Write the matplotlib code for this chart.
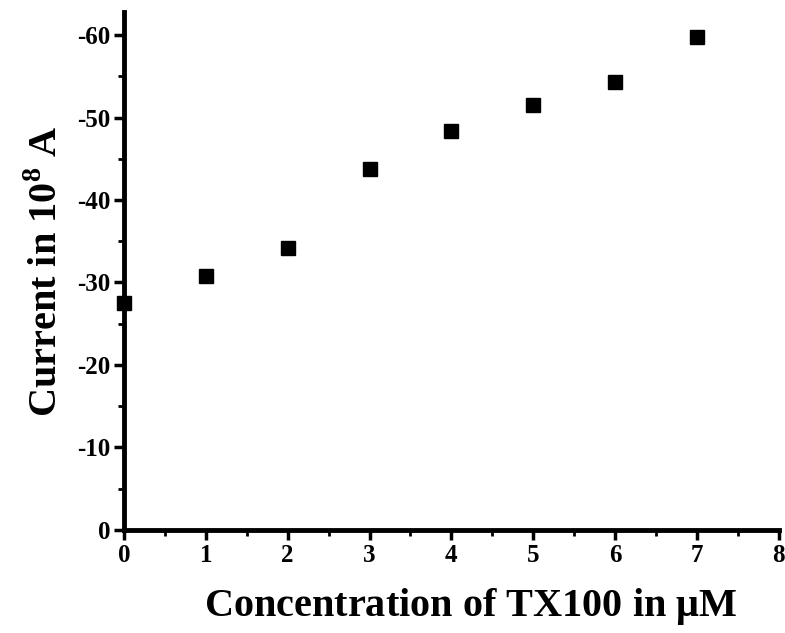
import matplotlib
matplotlib.use("Agg")
import matplotlib.pyplot as plt
from matplotlib.ticker import MultipleLocator

plt.rcParams["font.family"] = ["Liberation Serif", "DejaVu Serif"]
plt.rcParams["font.weight"] = "bold"
plt.rcParams["axes.unicode_minus"] = False
plt.rcParams["mathtext.fontset"] = "custom"
plt.rcParams["mathtext.rm"] = "Liberation Serif:bold"
plt.rcParams["mathtext.bf"] = "Liberation Serif:bold"

# Measured current vs. surfactant concentration
concentration = [0, 1, 2, 3, 4, 5, 6, 7]
current = [-27.5, -30.8, -34.2, -43.8, -48.4, -51.5, -54.3, -59.8]

x_ticks = [0, 1, 2, 3, 4, 5, 6, 7, 8]
y_ticks = [0, -10, -20, -30, -40, -50, -60]

fig = plt.figure(figsize=(7.85, 6.33), dpi=100)
ax = fig.add_axes([0.158, 0.163, 0.834, 0.818])

ax.plot(concentration, current, linestyle="none", marker="s", markersize=10,
        color="black", clip_on=False, zorder=5)

ax.set_xlim(0, 8)
ax.set_ylim(0, -62.8)
ax.set_xticks(x_ticks)
ax.set_yticks(y_ticks)
ax.set_xticklabels([str(v) for v in x_ticks])
ax.set_yticklabels([str(v) for v in y_ticks])
ax.xaxis.set_minor_locator(MultipleLocator(0.5))
ax.yaxis.set_minor_locator(MultipleLocator(5))

for side in ("top", "right"):
    ax.spines[side].set_visible(False)
for side in ("left", "bottom"):
    ax.spines[side].set_linewidth(3.5)

ax.tick_params(which="major", direction="out", length=7, width=2.5,
               labelsize=18, pad=3)
ax.tick_params(which="minor", direction="out", length=4, width=2)
for lbl in ax.get_xticklabels() + ax.get_yticklabels():
    lbl.set_fontweight("bold")

ax.set_xlabel(r"Concentration of TX100 in $\mathbf{\mu}$M", fontsize=29,
              fontweight="bold", labelpad=16)
ax.xaxis.set_label_coords(0.53, -0.108)
ax.set_ylabel(r"Current in 10$^{8}$ A", fontsize=29, fontweight="bold",
              labelpad=8)

fig.savefig("out.png", dpi=100)
